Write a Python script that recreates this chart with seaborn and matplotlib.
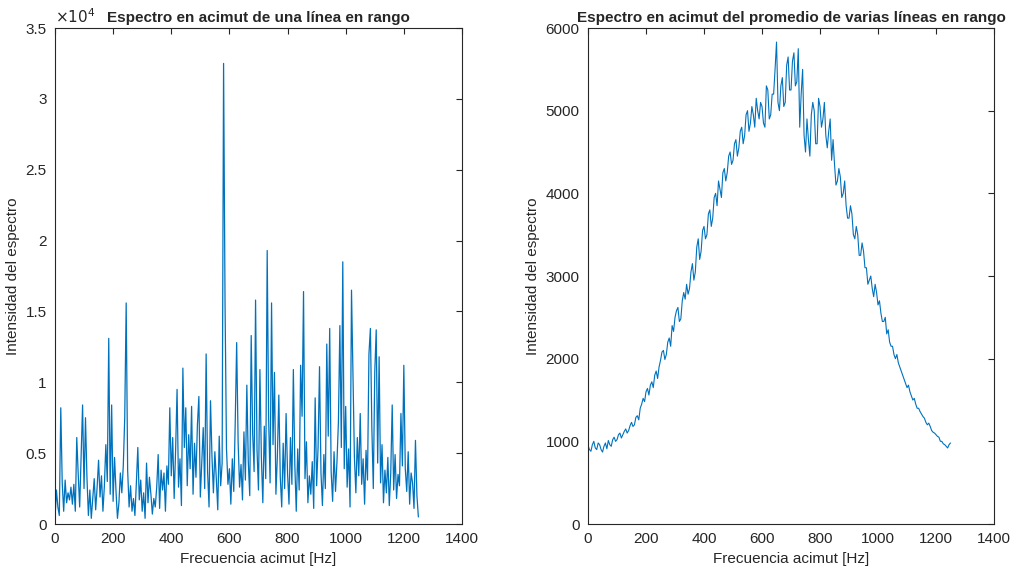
import numpy as np
import pandas as pd
import matplotlib
matplotlib.use('Agg')
import matplotlib.pyplot as plt
from matplotlib.ticker import FuncFormatter, MultipleLocator
import seaborn as sns

# single range line: azimuth spectrum sampled every 5 Hz (0..1250)
freq_one = np.arange(0, 1255, 5)
spec_one = [
    300, 2400, 1200, 600, 8200, 2900, 900, 3100, 1500, 2200,
    1700, 2600, 1400, 2800, 900, 6100, 3500, 1200, 4800, 8400,
    2500, 7500, 3300, 600, 2400, 400, 1800, 3200, 1000, 2600,
    4500, 1900, 3400, 900, 2700, 5600, 3000, 13100, 2100, 8400,
    1600, 4700, 2300, 400, 1500, 3600, 2200, 4100, 7500, 15600,
    3800, 1200, 2700, 900, 1800, 600, 2900, 5400, 1700, 3100,
    900, 2200, 400, 4300, 1500, 3300, 2100, 700, 1800, 1200,
    2600, 4900, 1100, 3800, 2400, 3600, 900, 4100, 2800, 8200,
    3400, 6100, 1800, 5200, 9500, 2600, 4600, 1300, 11000, 5400,
    8200, 2700, 6300, 3900, 8300, 2100, 5700, 3300, 7000, 9000,
    1900, 4400, 6800, 2500, 12000, 3700, 1200, 8700, 4800, 2200,
    5100, 3200, 1000, 6200, 2700, 4300, 32500, 15600, 5300, 2800,
    3900, 1400, 4600, 2300, 7100, 12800, 5800, 2600, 4200, 1700,
    6500, 3100, 9800, 4400, 2000, 13300, 6400, 3700, 15800, 5200,
    2400, 10900, 4700, 1500, 6900, 3200, 19300, 7400, 2900, 15600,
    5600, 10700, 2100, 4800, 9100, 3300, 1200, 5700, 2500, 7800,
    3600, 1400, 6100, 2800, 10900, 4200, 900, 5300, 2400, 11200,
    7600, 16400, 3200, 5800, 1500, 3400, 2100, 4400, 1100, 8900,
    2700, 5400, 11100, 3600, 1300, 4900, 2500, 12700, 6200, 13800,
    3700, 1600, 5100, 2300, 4400, 7200, 14000, 5400, 18500, 3900,
    8300, 2600, 5300, 1200, 16500, 10500, 4700, 2200, 6100, 3400,
    7800, 2800, 4600, 1400, 5200, 3100, 12000, 13800, 6800, 2500,
    10700, 13700, 4300, 11800, 2900, 5600, 1500, 3800, 2200, 4700,
    1300, 3600, 8400, 2400, 4900, 1800, 3500, 2700, 7800, 4100,
    11200, 3900, 2300, 5100, 1400, 3600, 2900, 1100, 5900, 2000,
    500,
]

# averaged spectrum over several range lines, every 5 Hz (0..1250)
freq_avg = np.arange(0, 1255, 5)
spec_avg = [
    950, 900, 880, 960, 1000, 920, 900, 980, 960, 900,
    870, 940, 980, 910, 1010, 960, 940, 1020, 1050, 1000,
    1020, 1080, 1100, 1040, 1080, 1120, 1150, 1100, 1130, 1190,
    1230, 1180, 1200, 1290, 1310, 1260, 1400, 1450, 1520, 1480,
    1600, 1640, 1560, 1680, 1720, 1650, 1800, 1850, 1760, 1900,
    1980, 2080, 2100, 1990, 2050, 2200, 2250, 2150, 2400, 2330,
    2500, 2580, 2620, 2450, 2480, 2700, 2800, 2720, 2900, 2780,
    2850, 3050, 3150, 2950, 3050, 3350, 3450, 3200, 3300, 3550,
    3600, 3450, 3500, 3750, 3800, 3600, 3700, 3950, 4000, 3850,
    4150, 4050, 3950, 4250, 4300, 4150, 4250, 4450, 4500, 4350,
    4400, 4600, 4650, 4450, 4550, 4750, 4800, 4600, 4700, 4950,
    5000, 4750, 4850, 5050, 4950, 4800, 5150, 5000, 4900, 5100,
    5050, 4850, 4800, 5300, 5250, 4900, 4950, 5200, 5200, 5500,
    5830, 5100, 5000, 5300, 5400, 5050, 5100, 5550, 5650, 5250,
    5250, 5600, 5700, 5300, 5350, 5750, 4800, 5200, 5500, 4700,
    4500, 4900, 4650, 4450, 4950, 5100, 5000, 4600, 4600, 5150,
    5050, 4800, 4900, 5100, 4700, 4550, 4750, 4900, 4400, 4650,
    4350, 4100, 4150, 4300, 4200, 3950, 4000, 4150, 3850, 3700,
    3700, 3850, 3750, 3500, 3450, 3600, 3500, 3250, 3250, 3400,
    3300, 3100, 3100, 2900, 2950, 3000, 2850, 2750, 2900, 2800,
    2650, 2700, 2550, 2450, 2450, 2500, 2300, 2350, 2200, 2150,
    2150, 2050, 2000, 2050, 1950, 1900, 1850, 1800, 1750, 1700,
    1650, 1680, 1600, 1550, 1500, 1520, 1450, 1400, 1400, 1360,
    1330, 1300, 1280, 1230, 1200, 1220, 1180, 1130, 1110, 1100,
    1080, 1060, 1050, 1000, 1000, 970, 960, 940, 920, 960,
    980,
]

sns.set_style('white')
plt.rcParams['font.family'] = ['Liberation Sans', 'DejaVu Sans']

matlab_blue = '#0072BD'
dark = '#262626'

df_one = pd.DataFrame({'freq': freq_one, 'spec': spec_one})
df_avg = pd.DataFrame({'freq': freq_avg, 'spec': spec_avg})

fig = plt.figure(figsize=(10.14, 5.81), dpi=100)
ax1 = fig.add_axes([0.0542, 0.0981, 0.4014, 0.8537])
ax2 = fig.add_axes([0.5799, 0.0981, 0.4004, 0.8537])

sns.lineplot(x='freq', y='spec', data=df_one, ax=ax1, color=matlab_blue, linewidth=0.9)
sns.lineplot(x='freq', y='spec', data=df_avg, ax=ax2, color=matlab_blue, linewidth=0.8)

for ax in (ax1, ax2):
    ax.set_xlim(0, 1400)
    ax.xaxis.set_major_locator(MultipleLocator(200))
    ax.set_xlabel('Frecuencia acimut [Hz]', fontsize=11, color=dark)
    ax.set_ylabel('Intensidad del espectro', fontsize=11, color=dark)
    ax.tick_params(direction='in', top=True, right=True, length=4,
                   labelsize=11, colors=dark, pad=6)
    for s in ax.spines.values():
        s.set_color(dark)
        s.set_linewidth(0.8)

ax1.set_ylim(0, 35000)
ax1.yaxis.set_major_locator(MultipleLocator(5000))
ax1.yaxis.set_major_formatter(FuncFormatter(lambda v, p: '%g' % (v / 1e4)))
ax1.text(0.0, 1.005, r'$\times10^4$', transform=ax1.transAxes, fontsize=11,
         color=dark, ha='left', va='bottom')
ax1.set_title('Espectro en acimut de una línea en rango', fontsize=11,
              fontweight='bold', pad=4)

ax2.set_ylim(0, 6000)
ax2.yaxis.set_major_locator(MultipleLocator(1000))
ax2.set_title('Espectro en acimut del promedio de varias líneas en rango',
              fontsize=11, fontweight='bold', pad=4)

fig.savefig('out.png', dpi=100)
plt.close(fig)
